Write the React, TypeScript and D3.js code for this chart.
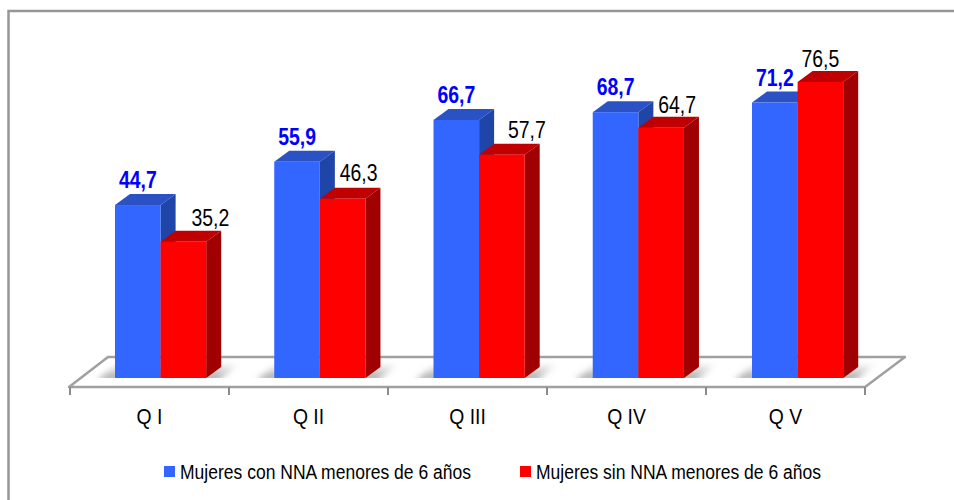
import React from 'react';
import * as d3 from 'd3';

const categories = ['Q I', 'Q II', 'Q III', 'Q IV', 'Q V'];
const conNna = [44.7, 55.9, 66.7, 68.7, 71.2];
const sinNna = [35.2, 46.3, 57.7, 64.7, 76.5];
const seriesNames = ['Mujeres con NNA menores de 6 años', 'Mujeres sin NNA menores de 6 años'];

// the labels of the red bars were moved by hand in the original
const sinLabelShift = [27, 16, 25, 16, 0];
const sinLabelLift = [16, 18, 17, 15, 15];

const width = 954;
const height = 500;
const font = '"Liberation Sans", Arial, sans-serif';

// oblique offset of the fake 3d
const depthX = 15;
const depthY = 11;
const baseY = 378;
const barW = 45.6;

const x = d3.scaleBand<string>().domain(categories).range([70, 865]);
const barX = d3.scaleBand<string>().domain(categories).range([115, 911.25]);
const y = d3.scaleLinear().domain([0, 76.5]).range([baseY, 82]);
const fmt = (v: number) => v.toFixed(1).replace('.', ',');

function Bar(props: {x0: number; value: number; front: string; top: string; side: string})
{
    const {x0, value, front, top, side} = props;
    const yt = y(value);
    const x1 = x0 + barW;
    const line = d3.line();
    const topPath = line([[x0, yt], [x0 + depthX, yt - depthY], [x1 + depthX, yt - depthY], [x1, yt]]) + 'Z';
    const sidePath = line([[x1, yt], [x1 + depthX, yt - depthY], [x1 + depthX, baseY - depthY], [x1, baseY]]) + 'Z';
    return (
        <g>
            <path d={topPath} fill={top}/>
            <path d={sidePath} fill={side}/>
            <rect x={x0} y={yt} width={barW} height={baseY - yt} fill={front}/>
        </g>
    );
}

// narrow, tall type as in the stretched original
function Label(props: {x: number; y: number; size: number; sx: number; fill?: string; bold?: boolean; children: string})
{
    return (
        <text transform={`translate(${props.x},${props.y}) scale(${props.sx},1)`}
              textAnchor="middle" fontSize={props.size} fill={props.fill || '#000'}
              fontWeight={props.bold ? 'bold' : 'normal'}>
            {props.children}
        </text>
    );
}

export default function App()
{
    const floorLine = d3.line();
    const ticks = [...categories.map(c => x(c) as number), 865];

    return (
        <svg width={width} height={height} style={{position: 'absolute', left: 0, top: 0, background: '#fff'}}>
            <defs>
                <linearGradient id="floorShade" x1="0" y1="0" x2="0" y2="1">
                    <stop offset="0" stopColor="#888" stopOpacity="0.05"/>
                    <stop offset="1" stopColor="#777" stopOpacity="0.75"/>
                </linearGradient>
                <filter id="blur" x="-20%" y="-40%" width="140%" height="180%">
                    <feGaussianBlur stdDeviation="3"/>
                </filter>
                <clipPath id="floorClip">
                    <rect x={60} y={358} width={860} height={baseY - 358}/>
                </clipPath>
            </defs>

            <path d="M8.5 500V11H954" fill="none" stroke="#969696" strokeWidth={2.5}/>

            <path d={floorLine([[69, 387], [108, 357], [905, 357], [865, 387]]) + 'Z'} fill="#fff" stroke="#a0a0a0" strokeWidth={2.5} strokeLinejoin="round"/>
            {ticks.map((t, i) => (
                <line key={i} x1={t} x2={t} y1={387} y2={395} stroke="#8c8c8c" strokeWidth={2}/>
            ))}

            {categories.map((c, i) =>
            {
                const x0 = barX(c) as number;
                return (
                    <g key={c}>
                        <g clipPath="url(#floorClip)">
                            <path d={floorLine([[x0 - 18, baseY + 3], [x0 + 2, 364], [x0 + barW * 2 + 32, 364], [x0 + barW * 2 + 12, baseY + 3]]) + 'Z'} fill="url(#floorShade)" filter="url(#blur)"/>
                        </g>
                        <Bar x0={x0} value={conNna[i]} front="#3366ff" top="#2b52c4" side="#1f45a8"/>
                        <Bar x0={x0 + barW} value={sinNna[i]} front="#ff0000" top="#c00000" side="#a00000"/>
                    </g>
                );
            })}

            <g fontFamily={font}>
                {categories.map((c, i) =>
                {
                    const x0 = barX(c) as number;
                    return (
                        <g key={c}>
                            <Label x={x0 + barW / 2} y={y(conNna[i]) - 17} size={24} sx={0.81} fill="#0000ff" bold>{fmt(conNna[i])}</Label>
                            <Label x={x0 + barW * 1.5 + sinLabelShift[i]} y={y(sinNna[i]) - sinLabelLift[i]} size={24} sx={0.81}>{fmt(sinNna[i])}</Label>
                            <Label x={(x(c) as number) + x.bandwidth() / 2} y={424} size={22} sx={0.88}>{c}</Label>
                        </g>
                    );
                })}
            </g>

            <g fontFamily={font} fontSize={19.5} fill="#000">
                <rect x={164} y={466} width={11} height={11} fill="#3366ff"/>
                <text x={180} y={479} textLength={291} lengthAdjust="spacingAndGlyphs">{seriesNames[0]}</text>
                <rect x={520} y={466} width={11} height={11} fill="#ff0000"/>
                <text x={536} y={479} textLength={285} lengthAdjust="spacingAndGlyphs">{seriesNames[1]}</text>
            </g>
        </svg>
    );
}
